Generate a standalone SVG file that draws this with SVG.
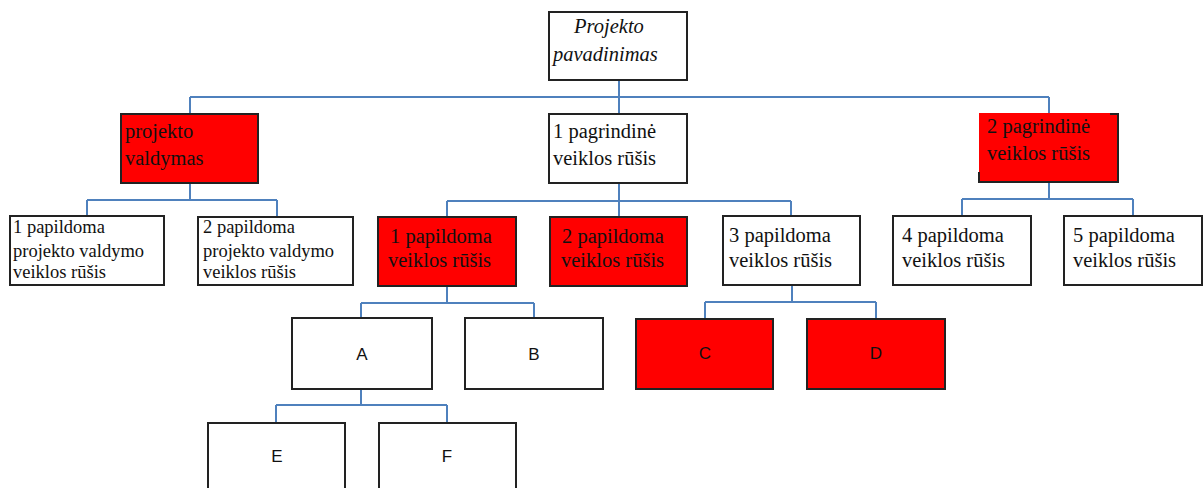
<svg xmlns="http://www.w3.org/2000/svg" width="1203" height="488" viewBox="0 0 1203 488">
<style>
.box{fill:#fff;stroke:#222;stroke-width:2}
.red{fill:#f00;stroke:#222;stroke-width:2}
.t{font-family:"Liberation Serif",serif;font-size:20.5px;fill:#111}
.ts{font-family:"Liberation Serif",serif;font-size:18.5px;fill:#111}
.ti{font-family:"Liberation Serif",serif;font-size:20.5px;font-style:italic;fill:#111}
.l{font-family:"Liberation Sans",sans-serif;font-size:17px;fill:#111;text-anchor:middle}
.c{fill:none;stroke:#4f81bd;stroke-width:2}
</style>
<rect width="1203" height="488" fill="#fff"/>
<g id="connectors">
<path class="c" d="M619 80V97M190 97H1049M190 97V114M619 97V114M1049 97V114"/>
<path class="c" d="M190 183V200M87 200H277M87 200V216M277 200V216"/>
<path class="c" d="M619 183V201M447 201H791M447 201V217M619 201V217M791 201V216"/>
<path class="c" d="M1049 182V199M962 199H1133M962 199V216M1133 199V216"/>
<path class="c" d="M447 286V303M361 303H534M361 303V318M534 303V318"/>
<path class="c" d="M792 285V302M705 302H876M705 302V319M876 302V319"/>
<path class="c" d="M361 389V405M276 405H447M276 405V423M447 405V423"/>
</g>
<g id="n-root"><rect class="box" x="549" y="12" width="138" height="68"/><text class="ti" x="574" y="33">Projekto</text><text class="ti" x="553" y="61">pavadinimas</text></g>
<g id="n-pv"><rect class="red" x="121" y="114" width="137" height="69"/><text class="t" x="125" y="138">projekto</text><text class="t" x="125" y="165">valdymas</text></g>
<g id="n-p1"><rect class="box" x="549" y="114" width="138" height="69"/><text class="t" x="553" y="138">1 pagrindinė</text><text class="t" x="553" y="165">veiklos rūšis</text></g>
<g id="n-p2"><rect x="979" y="113" width="139" height="69" fill="#f00"/><path d="M1110 114H1118V182H979V172" fill="none" stroke="#222" stroke-width="2"/><text class="t" x="987" y="133">2 pagrindinė</text><text class="t" x="987" y="160">veiklos rūšis</text></g>
<g id="n-pv1"><rect class="box" x="10" y="216" width="154" height="69"/><text class="ts" x="13" y="233">1 papildoma</text><text class="ts" x="13" y="257">projekto valdymo</text><text class="ts" x="13" y="278">veiklos rūšis</text></g>
<g id="n-pv2"><rect class="box" x="198" y="217" width="155" height="68"/><text class="ts" x="203" y="233">2 papildoma</text><text class="ts" x="203" y="257">projekto valdymo</text><text class="ts" x="203" y="278">veiklos rūšis</text></g>
<g id="n-s1"><rect class="red" x="378" y="217" width="138" height="69"/><text class="t" x="390" y="243">1 papildoma</text><text class="t" x="388" y="267">veiklos rūšis</text></g>
<g id="n-s2"><rect class="red" x="550" y="217" width="137" height="69"/><text class="t" x="562" y="243">2 papildoma</text><text class="t" x="561" y="267">veiklos rūšis</text></g>
<g id="n-s3"><rect class="box" x="723" y="216" width="137" height="69"/><text class="t" x="729" y="242">3 papildoma</text><text class="t" x="729" y="267">veiklos rūšis</text></g>
<g id="n-s4"><rect class="box" x="893" y="216" width="138" height="69"/><text class="t" x="902" y="242">4 papildoma</text><text class="t" x="902" y="267">veiklos rūšis</text></g>
<g id="n-s5"><rect class="box" x="1064" y="216" width="138" height="69"/><text class="t" x="1073" y="242">5 papildoma</text><text class="t" x="1073" y="267">veiklos rūšis</text></g>
<g id="n-A"><rect class="box" x="292" y="318" width="140" height="71"/><text class="l" x="362" y="360">A</text></g>
<g id="n-B"><rect class="box" x="465" y="318" width="138" height="71"/><text class="l" x="534" y="360">B</text></g>
<g id="n-C"><rect class="red" x="636" y="319" width="137" height="70"/><text class="l" x="705" y="359">C</text></g>
<g id="n-D"><rect class="red" x="807" y="319" width="138" height="70"/><text class="l" x="876" y="359">D</text></g>
<g id="n-E"><rect class="box" x="208" y="423" width="137" height="80"/><text class="l" x="277" y="462">E</text></g>
<g id="n-F"><rect class="box" x="379" y="423" width="137" height="80"/><text class="l" x="447" y="462">F</text></g>
</svg>
